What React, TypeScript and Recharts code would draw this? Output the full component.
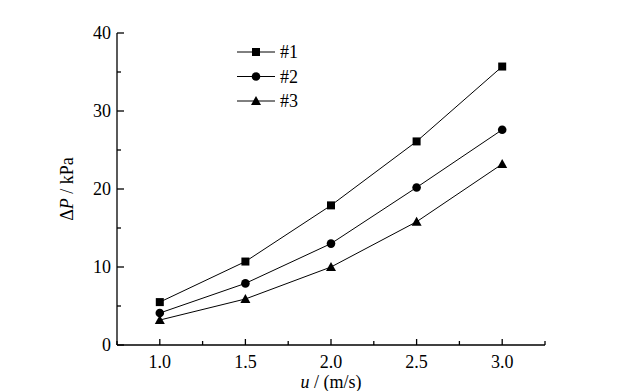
import { LineChart, Line, XAxis, YAxis } from "recharts";

const velocity = [1.0, 1.5, 2.0, 2.5, 3.0];
const dp1 = [5.5, 10.7, 17.9, 26.1, 35.7];
const dp2 = [4.1, 7.9, 13.0, 20.2, 27.6];
const dp3 = [3.2, 5.9, 10.0, 15.8, 23.2];

const xTicks = [0.75, 1.0, 1.25, 1.5, 1.75, 2.0, 2.25, 2.5, 2.75, 3.0, 3.25];
const yTicks = [0, 5, 10, 15, 20, 25, 30, 35, 40];

const seriesNames = ["#1", "#2", "#3"];

const FONT = "Liberation Serif, Times New Roman, Times, serif";
const FS = 18;

const data = velocity.map((u, i) => ({ u, s1: dp1[i], s2: dp2[i], s3: dp3[i] }));

type Shape = "square" | "circle" | "triangle";

function Marker({ cx, cy, shape }: { cx: number; cy: number; shape: Shape }) {
  if (shape === "square") return <rect x={cx - 4} y={cy - 4} width={8} height={8} fill="#000" />;
  if (shape === "circle") return <circle cx={cx} cy={cy} r={4.3} fill="#000" />;
  return <polygon points={`${cx},${cy - 5} ${cx + 5},${cy + 4} ${cx - 5},${cy + 4}`} fill="#000" />;
}

const dotFor = (shape: Shape) => (p: any) =>
  p.cx == null ? <g key={p.index} /> : <Marker key={p.index} cx={p.cx} cy={p.cy} shape={shape} />;

function YTick({ x, y, payload }: any) {
  const major = payload.value % 10 === 0;
  return (
    <g>
      <line x1={x} x2={x + (major ? 7 : 4)} y1={y} y2={y} stroke="#000" strokeWidth={1.3} />
      {major && (
        <text x={x - 6} y={y} dy={6} textAnchor="end" fontSize={FS} style={{ fontFamily: FONT }} fill="#000">
          {payload.value}
        </text>
      )}
    </g>
  );
}

function XTick({ x, y, payload }: any) {
  const v = payload.value;
  const major = Math.abs(v * 2 - Math.round(v * 2)) < 1e-6 && v >= 1 && v <= 3;
  return (
    <g>
      <line x1={x} x2={x} y1={y} y2={y - (major ? 6 : 4)} stroke="#000" strokeWidth={1.3} />
      {major && (
        <text x={x} y={y + 23} textAnchor="middle" fontSize={FS} style={{ fontFamily: FONT }} fill="#000">
          {v.toFixed(1)}
        </text>
      )}
    </g>
  );
}

const shapes: Shape[] = ["square", "circle", "triangle"];

function LegendBox() {
  return (
    <svg width={80} height={70} style={{ position: "absolute", left: 237, top: 43 }}>
      {seriesNames.map((name, i) => {
        const cy = 9 + i * 24.5;
        return (
          <g key={name}>
            <line x1={0} x2={38} y1={cy} y2={cy} stroke="#000" strokeWidth={1} />
            <Marker cx={19} cy={cy} shape={shapes[i]} />
            <text x={43} y={cy + 6} fontSize={FS} style={{ fontFamily: FONT }} fill="#000">
              {name}
            </text>
          </g>
        );
      })}
    </svg>
  );
}

export default function App() {
  return (
    <div
      style={{
        position: "absolute",
        left: 0,
        top: 0,
        width: 638,
        height: 391,
        background: "#fff",
        fontFamily: FONT,
      }}
    >
      <LineChart width={638} height={391} data={data} margin={{ top: 33, right: 93, left: 57, bottom: 6 }}>
        <XAxis
          dataKey="u"
          type="number"
          domain={[0.75, 3.25]}
          ticks={xTicks}
          interval={0}
          tickSize={0}
          tickMargin={0}
          tickLine={false}
          tick={<XTick />}
          height={40}
          stroke="#000"
          strokeWidth={1.3}
          label={({ viewBox }: any) => (
            <text
              x={viewBox.x + viewBox.width / 2}
              y={viewBox.y + 43}
              textAnchor="middle"
              fontSize={FS}
              style={{ fontFamily: FONT }}
              fill="#000"
            >
              <tspan fontStyle="italic">u</tspan> / (m/s)
            </text>
          )}
        />
        <YAxis
          type="number"
          domain={[0, 40]}
          ticks={yTicks}
          interval={0}
          tickSize={0}
          tickMargin={0}
          tickLine={false}
          tick={<YTick />}
          width={60}
          stroke="#000"
          strokeWidth={1.3}
          label={({ viewBox }: any) => {
            const cx = viewBox.x + 16;
            const cy = viewBox.y + viewBox.height / 2;
            return (
              <text
                x={cx}
                y={cy}
                transform={`rotate(-90 ${cx} ${cy})`}
                textAnchor="middle"
                fontSize={FS}
                style={{ fontFamily: FONT }}
                fill="#000"
              >
                Δ<tspan fontStyle="italic">P</tspan> / kPa
              </text>
            );
          }}
        />
        <Line dataKey="s1" stroke="#000" strokeWidth={1} dot={dotFor("square")} isAnimationActive={false} />
        <Line dataKey="s2" stroke="#000" strokeWidth={1} dot={dotFor("circle")} isAnimationActive={false} />
        <Line dataKey="s3" stroke="#000" strokeWidth={1} dot={dotFor("triangle")} isAnimationActive={false} />
      </LineChart>
      <LegendBox />
    </div>
  );
}
